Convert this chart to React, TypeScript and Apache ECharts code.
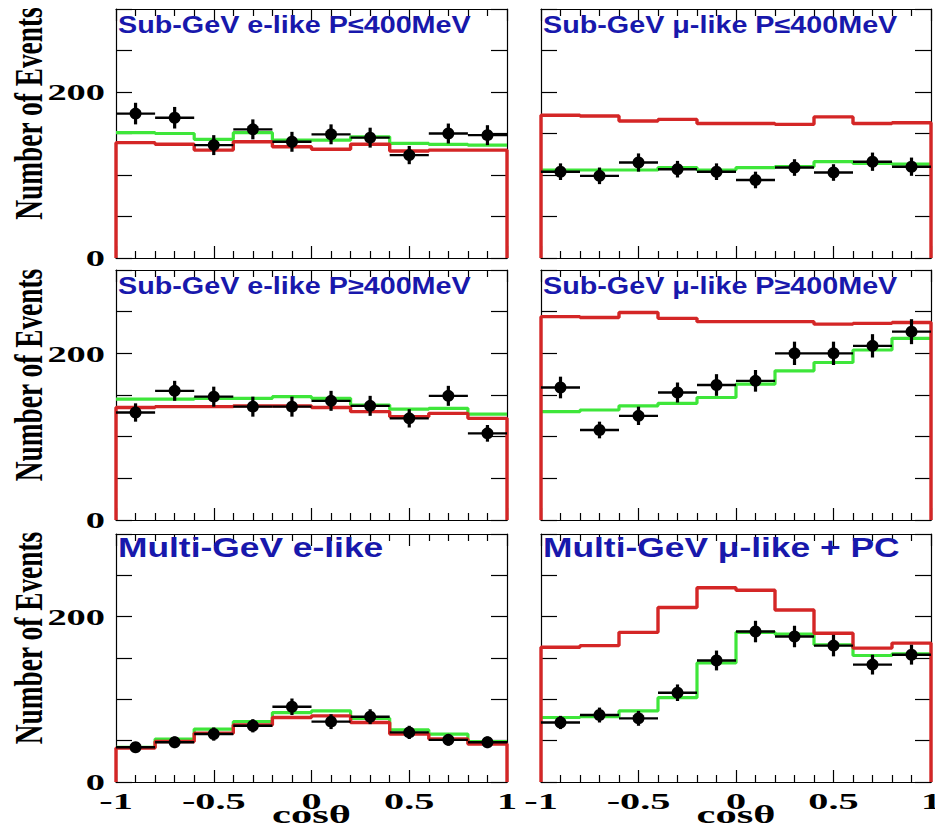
import React, { useEffect, useRef } from 'react';
import * as echarts from 'echarts';

// ---- data ----
const binCenters = [-0.9, -0.7, -0.5, -0.3, -0.1, 0.1, 0.3, 0.5, 0.7, 0.9];
const binHalfWidth = 0.1;
const xTickLabels = [-1, -0.5, 0, 0.5, 1];
const yTickLabels = [0, 200];

const panelTitles = [
  'Sub-GeV e-like P≤400MeV',
  'Sub-GeV μ-like P≤400MeV',
  'Sub-GeV e-like P≥400MeV',
  'Sub-GeV μ-like P≥400MeV',
  'Multi-GeV e-like',
  'Multi-GeV μ-like + PC',
];

// Sub-GeV e-like P<=400MeV
const subELowData = [174, 169, 136, 155, 140, 149, 145, 124, 150, 148];
const subELowErr = [13, 13, 12, 12, 12, 12, 12, 11, 12, 12];
const subELowOsc = [151, 150, 143, 151, 142, 142, 146, 138, 137, 136];
const subELowNoOsc = [139, 137, 130, 140, 134, 131, 137, 129, 130, 130];

// Sub-GeV mu-like P<=400MeV
const subMuLowData = [104, 99, 115, 107, 104, 94, 109, 103, 116, 110];
const subMuLowErr = [10, 10, 11, 10, 10, 10, 10, 10, 11, 11];
const subMuLowOsc = [106, 106, 106, 109, 106, 109, 110, 116, 114, 113];
const subMuLowNoOsc = [172, 171, 165, 167, 162, 162, 161, 170, 162, 163];

// Sub-GeV e-like P>=400MeV
const subEHighData = [129, 155, 148, 136, 136, 143, 137, 122, 149, 104];
const subEHighErr = [11, 12, 12, 12, 12, 12, 12, 11, 12, 10];
const subEHighOsc = [145, 145, 146, 146, 148, 146, 138, 133, 134, 127];
const subEHighNoOsc = [135, 136, 136, 137, 137, 135, 130, 124, 128, 122];

// Sub-GeV mu-like P>=400MeV
const subMuHighData = [159, 108, 125, 153, 162, 167, 200, 200, 209, 226];
const subMuHighErr = [13, 10, 11, 12, 13, 13, 14, 14, 14, 15];
const subMuHighOsc = [130, 132, 137, 140, 147, 163, 179, 189, 204, 218];
const subMuHighNoOsc = [244, 243, 249, 242, 238, 238, 238, 235, 236, 237];

// Multi-GeV e-like
const multiEData = [42, 48, 58, 68, 91, 73, 79, 60, 51, 48];
const multiEErr = [6, 7, 8, 8, 10, 9, 9, 8, 7, 7];
const multiEOsc = [42, 52, 64, 73, 84, 86, 77, 63, 58, 49];
const multiENoOsc = [41, 49, 59, 69, 78, 80, 72, 58, 52, 46];

// Multi-GeV mu-like + PC
const multiMuData = [72, 81, 77, 108, 147, 182, 176, 165, 142, 154];
const multiMuErr = [8, 9, 9, 10, 12, 13, 13, 13, 12, 12];
const multiMuOsc = [78, 79, 86, 102, 144, 181, 179, 166, 153, 155];
const multiMuNoOsc = [163, 165, 181, 211, 235, 232, 208, 180, 162, 168];

const panels = [
  { data: subELowData, err: subELowErr, osc: subELowOsc, noOsc: subELowNoOsc },
  { data: subMuLowData, err: subMuLowErr, osc: subMuLowOsc, noOsc: subMuLowNoOsc },
  { data: subEHighData, err: subEHighErr, osc: subEHighOsc, noOsc: subEHighNoOsc },
  { data: subMuHighData, err: subMuHighErr, osc: subMuHighOsc, noOsc: subMuHighNoOsc },
  { data: multiEData, err: multiEErr, osc: multiEOsc, noOsc: multiENoOsc },
  { data: multiMuData, err: multiMuErr, osc: multiMuOsc, noOsc: multiMuNoOsc },
];

// ---- styles / layout ----
const RED = '#d42626';
const GREEN = '#3ee63a';
const BLUE = '#1818ac';
const SERIF = '"Liberation Serif", "Times New Roman", serif';
const SANS = '"Liberation Sans", Arial, sans-serif';

const colLeft = [116, 541];
const colWidth = [391, 390];
const rowTop = [9, 270, 534];
const rowHeight = [249, 250, 248];

function stepPoints(vals: number[], closed: boolean) {
  const pts: number[][] = [];
  if (closed) pts.push([binCenters[0] - binHalfWidth, 0]);
  vals.forEach((v, i) => {
    pts.push([binCenters[i] - binHalfWidth, v]);
    pts.push([binCenters[i] + binHalfWidth, v]);
  });
  if (closed) pts.push([binCenters[binCenters.length - 1] + binHalfWidth, 0]);
  return pts;
}

export default function App() {
  const ref = useRef<HTMLDivElement>(null);

  useEffect(() => {
    if (!ref.current) return;
    const chart = echarts.init(ref.current, null, { renderer: 'svg' });

    const grids: any[] = [];
    const xAxes: any[] = [];
    const yAxes: any[] = [];
    const series: any[] = [];

    panels.forEach((p, i) => {
      const row = Math.floor(i / 2);
      const col = i % 2;
      grids.push({
        left: colLeft[col],
        width: colWidth[col],
        top: rowTop[row],
        height: rowHeight[row],
        containLabel: false,
      });
      ['bottom', 'top'].forEach((pos) => {
        xAxes.push({
          type: 'value',
          gridIndex: i,
          position: pos,
          min: -1,
          max: 1,
          interval: 0.5,
          axisLine: { show: true, onZero: false, lineStyle: { color: '#000', width: 1.2 } },
          axisTick: { show: true, inside: true, length: 12, lineStyle: { color: '#000', width: 1.2 } },
          minorTick: { show: true, splitNumber: 5, length: 7, lineStyle: { color: '#000', width: 1.2 } },
          axisLabel: { show: false },
          splitLine: { show: false },
        });
      });
      ['left', 'right'].forEach((pos) => {
        yAxes.push({
          type: 'value',
          gridIndex: i,
          position: pos,
          min: 0,
          max: 300,
          interval: 50,
          axisLine: { show: true, onZero: false, lineStyle: { color: '#000', width: 1.2 } },
          axisTick: { show: true, inside: true, length: 16, lineStyle: { color: '#000', width: 1.2 } },
          axisLabel: { show: false },
          splitLine: { show: false },
        });
      });

      series.push({
        type: 'line',
        name: 'oscillation',
        xAxisIndex: i * 2,
        yAxisIndex: i * 2,
        data: stepPoints(p.osc, false),
        symbol: 'none',
        lineStyle: { color: GREEN, width: 3.2 },
        z: 2,
      });
      series.push({
        type: 'line',
        name: 'no oscillation',
        xAxisIndex: i * 2,
        yAxisIndex: i * 2,
        data: stepPoints(p.noOsc, true),
        symbol: 'none',
        lineStyle: { color: RED, width: 3.4 },
        z: 3,
      });
      series.push({
        type: 'custom',
        name: 'data',
        xAxisIndex: i * 2,
        yAxisIndex: i * 2,
        data: binCenters.map((c, k) => [c, p.data[k], p.err[k]]),
        encode: { x: 0, y: 1 },
        z: 5,
        renderItem: (params: any, api: any) => {
          const x = api.value(0);
          const y = api.value(1);
          const e = api.value(2);
          const c = api.coord([x, y]);
          const l = api.coord([x - binHalfWidth, y]);
          const r = api.coord([x + binHalfWidth, y]);
          const t = api.coord([x, y + e]);
          const b = api.coord([x, y - e]);
          return {
            type: 'group',
            children: [
              { type: 'line', shape: { x1: l[0], y1: l[1], x2: r[0], y2: r[1] }, style: { stroke: '#000', lineWidth: 2.4 } },
              { type: 'line', shape: { x1: t[0], y1: t[1], x2: b[0], y2: b[1] }, style: { stroke: '#000', lineWidth: 3.2 } },
              { type: 'circle', shape: { cx: c[0], cy: c[1], r: 6 }, style: { fill: '#000' } },
            ],
          };
        },
      });
    });

    chart.setOption({
      animation: false,
      backgroundColor: '#fff',
      grid: grids,
      xAxis: xAxes,
      yAxis: yAxes,
      series,
    });

    const px = (i: number, v: number[]) =>
      chart.convertToPixel({ xAxisIndex: i * 2, yAxisIndex: i * 2 }, v) as number[];

    const graphics: any[] = [];

    // panel titles
    panels.forEach((_, i) => {
      const multi = i >= 4;
      const tl = px(i, [-1, 300]);
      graphics.push({
        type: 'text',
        x: tl[0] + 2,
        y: tl[1] + (multi ? 13.5 : 16),
        scaleX: multi ? 1.31 : 1.25,
        z: 10,
        style: {
          text: panelTitles[i],
          fill: BLUE,
          fontFamily: SANS,
          fontWeight: 'bold',
          fontSize: multi ? 27 : 23,
          align: 'left',
          verticalAlign: 'middle',
        },
      });
    });

    // y axis names and tick labels (left column)
    [0, 2, 4].forEach((i) => {
      const mid = px(i, [-1, 150]);
      graphics.push({
        type: 'text',
        x: 28,
        y: mid[1] - 20,
        rotation: Math.PI / 2,
        scaleX: 0.685,
        z: 10,
        style: {
          text: 'Number of Events',
          fill: '#000',
          fontFamily: SERIF,
          fontWeight: 'bold',
          fontSize: 40,
          align: 'center',
          verticalAlign: 'middle',
        },
      });
      yTickLabels.forEach((v) => {
        const p = px(i, [-1, v]);
        graphics.push({
          type: 'text',
          x: p[0] - 11,
          y: p[1],
          scaleX: 1.6,
          z: 10,
          style: {
            text: String(v),
            fill: '#000',
            fontFamily: SERIF,
            fontWeight: 'bold',
            fontSize: 24,
            align: 'right',
            verticalAlign: 'middle',
          },
        });
      });
    });

    // x tick labels and axis name (bottom row)
    [4, 5].forEach((i) => {
      xTickLabels.forEach((v) => {
        const p = px(i, [v, 0]);
        graphics.push({
          type: 'text',
          x: p[0],
          y: p[1] + 19,
          scaleX: 1.75,
          z: 10,
          style: {
            text: String(v),
            fill: '#000',
            fontFamily: SERIF,
            fontWeight: 'bold',
            fontSize: 23,
            align: 'center',
            verticalAlign: 'middle',
          },
        });
      });
      const c = px(i, [0, 0]);
      graphics.push({
        type: 'text',
        x: c[0],
        y: c[1] + 33,
        scaleX: 1.7,
        z: 10,
        style: {
          text: 'cosθ',
          fill: '#000',
          fontFamily: SERIF,
          fontWeight: 'bold',
          fontSize: 25,
          align: 'center',
          verticalAlign: 'middle',
        },
      });
    });

    chart.setOption({ graphic: graphics });

    return () => chart.dispose();
  }, []);

  return (
    <div
      ref={ref}
      style={{ position: 'fixed', left: 0, top: 0, width: 935, height: 829, background: '#fff' }}
    />
  );
}
